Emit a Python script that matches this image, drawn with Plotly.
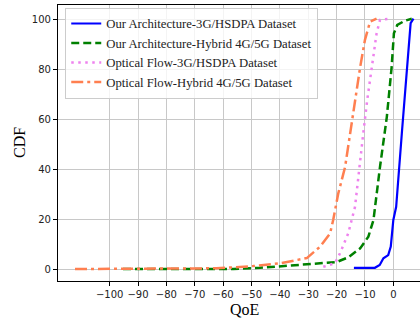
import plotly.graph_objects as go

series_names = [
    "Our Architecture-3G/HSDPA Dataset",
    "Our Architecture-Hybrid 4G/5G Dataset",
    "Optical Flow-3G/HSDPA Dataset",
    "Optical Flow-Hybrid 4G/5G Dataset",
]

arch_3g_x = [-13.9, -6.5, -4.8, -3.5, -1.8, -0.9, 0, 1, 3, 4.7, 6.1, 7.1]
arch_3g_y = [0.5, 0.5, 1.6, 4.3, 5.6, 9, 19.7, 25, 54.5, 81, 98.7, 100.5]

arch_hy_x = [-95.3, -56.4, -47, -38.8, -28.2, -20, -15.9, -11.7, -8.8, -7, -4.7, -2.3, -0.6, 0.2, 1.4, 4.1, 6.5]
arch_hy_y = [0, 0, 0.5, 1.2, 2, 2.8, 4.7, 8.3, 13, 19.7, 41, 61, 81, 94.6, 98, 99.7, 100.5]

of_3g_x = [-24.7, -20.6, -18.8, -15.9, -13.5, -12, -10.6, -9.2, -7.6, -5.9, -4.7, -1.8]
of_3g_y = [0.9, 2.3, 6.3, 14.3, 25, 41, 54.5, 67.9, 81.2, 94.6, 100, 100.4]

of_hy_x = [-112.2, -62.3, -56.4, -49.4, -40, -30.5, -25.8, -22.3, -21.2, -19.4, -17, -15.3, -13.5, -11.7, -10, -8.2, -5.9]
of_hy_y = [0, 0.3, 0.7, 1.2, 2.3, 4.4, 9, 14.3, 19.7, 30.4, 41, 54.5, 67.9, 81, 92, 99.3, 100.5]

x_ticks = [-100, -90, -80, -70, -60, -50, -40, -30, -20, -10, 0]
y_ticks = [0, 20, 40, 60, 80, 100]

fig = go.Figure()
styles = [
    dict(color="#0000ff", width=2.2, dash="solid"),
    dict(color="#008000", width=2.5, dash="8px,4px"),
    dict(color="#ee82ee", width=2.5, dash="2.5px,4.5px"),
    dict(color="#ff7f50", width=2.5, dash="12px,4px,3px,4px"),
]
data = [(arch_3g_x, arch_3g_y), (arch_hy_x, arch_hy_y), (of_3g_x, of_3g_y), (of_hy_x, of_hy_y)]
for name, (xs, ys), st in zip(series_names, data, styles):
    fig.add_trace(go.Scatter(x=xs, y=ys, mode="lines", name=name, line=st))

axis_common = dict(
    showgrid=True, gridcolor="#c8c8c8", gridwidth=1,
    zeroline=False, showline=True, linecolor="black", linewidth=1.2,
    ticks="outside", ticklen=4, tickcolor="black", automargin=False,
    tickfont=dict(family="DejaVu Sans", size=10, color="#222"),
)
fig.update_xaxes(**axis_common, range=[-118.2, 9.4], tickvals=x_ticks, mirror=True)
fig.update_yaxes(**axis_common, range=[-4.8, 106], tickvals=y_ticks)

title_font = dict(family="Liberation Serif", size=16, color="black")
fig.add_annotation(text="QoE", xref="paper", yref="paper", x=(244 - 58) / 362, y=(281 - 309) / 276,
                   xanchor="center", yanchor="middle", showarrow=False, font=title_font)
fig.add_annotation(text="CDF", xref="paper", yref="paper", x=(19 - 58) / 362, y=0.5,
                   xanchor="center", yanchor="middle", showarrow=False, textangle=-90, font=title_font)

fig.update_layout(
    width=420, height=323,
    margin=dict(l=58, r=0, t=5, b=42),
    plot_bgcolor="white", paper_bgcolor="white",
    legend=dict(
        x=0.02, y=0.99, xanchor="left", yanchor="top",
        bgcolor="rgba(255,255,255,0.8)", bordercolor="#cccccc", borderwidth=1,
        font=dict(family="Liberation Serif", size=12.7, color="#222"),
        tracegroupgap=0, itemwidth=30,
    ),
)
fig.write_html(
    "out.html",
    config={"displayModeBar": False},
    post_script="document.body.style.margin='0';document.body.style.overflow='hidden';",
)
